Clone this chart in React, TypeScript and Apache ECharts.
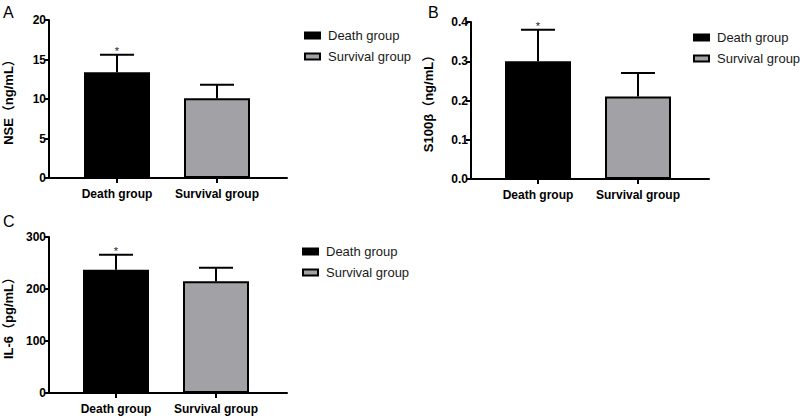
import React, { useEffect, useRef } from "react";
import * as echarts from "echarts";

const categories = ["Death group", "Survival group"];
const nseMean = [13.4, 10.1];
const nseUpper = [15.6, 11.8];
const s100Mean = [0.3, 0.21];
const s100Upper = [0.38, 0.27];
const il6Mean = [237, 215];
const il6Upper = [266, 241];
const significant = [1, 0];
const panelLabels = ["A", "B", "C"];
const yTitles = ["NSE（ng/mL）", "S100β（ng/mL）", "IL-6（pg/mL）"];

const FONT = "'Liberation Sans', Arial, Helvetica, sans-serif";
const TITLE_FONT = "'Liberation Sans', Arial, 'Noto Sans CJK SC', sans-serif";

export default function App() {
  const ref = useRef<HTMLDivElement>(null);
  useEffect(() => {
    if (!ref.current) return;
    const chart = echarts.init(ref.current, undefined, { renderer: "svg" });

    const panels = [
      { mean: nseMean, upper: nseUpper, min: 0, max: 20, interval: 5, dec: 0, grid: { left: 49, top: 20, width: 238, height: 158 }, xmin: 0.32, xmax: 2.7, nameGap: 34 },
      { mean: s100Mean, upper: s100Upper, min: 0, max: 0.4, interval: 0.1, dec: 1, grid: { left: 471, top: 22, width: 238, height: 157 }, xmin: 0.33, xmax: 2.71, nameGap: 36 },
      { mean: il6Mean, upper: il6Upper, min: 0, max: 300, interval: 100, dec: 0, grid: { left: 49, top: 237, width: 238, height: 156 }, xmin: 0.33, xmax: 2.71, nameGap: 34 },
    ];

    const grids: any[] = [];
    const xAxes: any[] = [];
    const yAxes: any[] = [];
    const series: any[] = [];

    panels.forEach((p, i) => {
      grids.push({ ...p.grid, containLabel: false });
      xAxes.push({
        type: "value",
        gridIndex: i,
        min: p.xmin,
        max: p.xmax,
        splitLine: { show: false },
        axisLine: { show: true, lineStyle: { color: "#000", width: 2 } },
        axisTick: { show: true, customValues: [1, 2], length: 5, lineStyle: { color: "#000", width: 2 } },
        axisLabel: {
          customValues: [1, 2],
          formatter: (v: number) => categories[Math.round(v) - 1] || "",
          fontFamily: FONT,
          fontWeight: "bold",
          fontSize: 12,
          color: "#000",
          margin: 10,
        },
      });
      yAxes.push({
        type: "value",
        gridIndex: i,
        min: p.min,
        max: p.max,
        interval: p.interval,
        name: yTitles[i],
        nameLocation: "middle",
        nameGap: p.nameGap,
        nameTextStyle: { fontFamily: TITLE_FONT, fontWeight: "bold", fontSize: 13, color: "#000" },
        splitLine: { show: false },
        axisLine: { show: true, lineStyle: { color: "#000", width: 2 } },
        axisTick: { show: true, length: 5, lineStyle: { color: "#000", width: 2 } },
        axisLabel: {
          formatter: (v: number) => v.toFixed(p.dec),
          fontFamily: FONT,
          fontWeight: "bold",
          fontSize: 12,
          color: "#000",
          margin: 3,
        },
      });
      series.push({
        type: "bar",
        name: categories[0],
        xAxisIndex: i,
        yAxisIndex: i,
        barWidth: 66,
        barGap: "-100%",
        data: [[1, p.mean[0]]],
        itemStyle: { color: "#000", borderColor: "#000", borderWidth: 2 },
      });
      series.push({
        type: "bar",
        name: categories[1],
        xAxisIndex: i,
        yAxisIndex: i,
        barWidth: 66,
        barGap: "-100%",
        data: [[2, p.mean[1]]],
        itemStyle: { color: "#a2a2a6", borderColor: "#000", borderWidth: 2 },
      });
      series.push({
        type: "custom",
        xAxisIndex: i,
        yAxisIndex: i,
        z: 10,
        encode: { x: 0, y: [1, 2] },
        data: p.mean.map((m, k) => [k + 1, m, p.upper[k], significant[k]]),
        renderItem: (params: any, api: any) => {
          const x = api.value(0);
          const m = api.value(1);
          const t = api.value(2);
          const sig = api.value(3);
          const p0 = api.coord([x, m]);
          const p1 = api.coord([x, t]);
          const half = 17;
          const children: any[] = [
            { type: "line", shape: { x1: p0[0], y1: p0[1], x2: p1[0], y2: p1[1] }, style: { stroke: "#000", lineWidth: 2 } },
            { type: "line", shape: { x1: p1[0] - half, y1: p1[1], x2: p1[0] + half, y2: p1[1] }, style: { stroke: "#000", lineWidth: 2 } },
          ];
          if (sig) {
            children.push({
              type: "text",
              x: p1[0],
              y: p1[1] - 4,
              style: { text: "*", fill: "#222", fontSize: 11, fontFamily: FONT, align: "center", verticalAlign: "middle" },
            });
          }
          return { type: "group", children };
        },
      });
    });

    const legendBase = (left: number, top: number) => ({
      orient: "vertical",
      left,
      top,
      itemWidth: 15,
      itemHeight: 6,
      itemGap: 8,
      icon: "rect",
      selectedMode: false,
      textStyle: { fontFamily: FONT, fontSize: 13, color: "#1a1a1a", padding: [0, 0, 0, 3] },
      data: [
        { name: categories[0], itemStyle: { color: "#000", borderColor: "#000", borderWidth: 2 } },
        { name: categories[1], itemStyle: { color: "#a2a2a6", borderColor: "#000", borderWidth: 2 } },
      ],
    });

    chart.setOption({
      animation: false,
      backgroundColor: "#fff",
      grid: grids,
      xAxis: xAxes,
      yAxis: yAxes,
      series,
      legend: [legendBase(299, 24), legendBase(688, 26), legendBase(297, 240)],
      graphic: [
        { type: "text", left: 3, top: 4, style: { text: panelLabels[0], fontFamily: FONT, fontSize: 16, fill: "#000" } },
        { type: "text", left: 428, top: 4, style: { text: panelLabels[1], fontFamily: FONT, fontSize: 16, fill: "#000" } },
        { type: "text", left: 3, top: 213, style: { text: panelLabels[2], fontFamily: FONT, fontSize: 16, fill: "#000" } },
      ],
    });
    return () => chart.dispose();
  }, []);
  return <div ref={ref} style={{ position: "fixed", left: 0, top: 0, width: 800, height: 418 }} />;
}
